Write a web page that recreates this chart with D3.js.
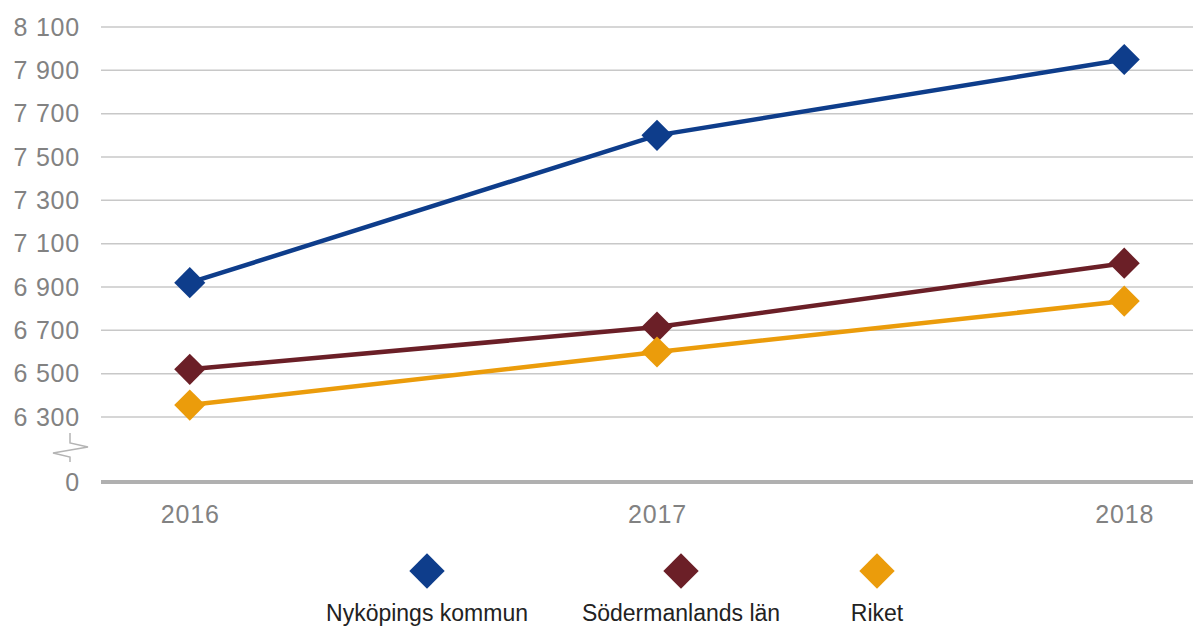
<!DOCTYPE html>
<html>
<head>
<meta charset="utf-8">
<script src="https://cdn.jsdelivr.net/npm/d3@7"></script>
<style>
  body { margin: 0; background: #fff; }
  svg text { font-family: "Liberation Sans", Arial, sans-serif; }
</style>
</head>
<body>
<div id="chart"></div>
<script>
// data
var years = ["2016", "2017", "2018"];
var nykoping = [6920, 7600, 7950];
var sodermanland = [6520, 6715, 7010];
var riket = [6355, 6600, 6835];
var series_names = ["Nyköpings kommun", "Södermanlands län", "Riket"];
var series_colors = ["#0e3d8b", "#6b1f27", "#eb9c0b"];
var y_ticks = [6300, 6500, 6700, 6900, 7100, 7300, 7500, 7700, 7900, 8100];

var all_series = [nykoping, sodermanland, riket];

var width = 1193, height = 628;
var plot_left = 101, plot_right = 1213;
var plot_top = 27, plot_bottom = 482;

var svg = d3.select("#chart").append("svg")
    .attr("width", width).attr("height", height);

// scales (axis is broken: 6000 position shows as 0)
var xscale = d3.scalePoint().domain(years).range([plot_left, plot_right]).padding(0.19);
var yscale = d3.scaleLinear().domain([6000, 8100]).range([plot_bottom, plot_top]);

// gridlines
svg.append("g").selectAll("line").data(y_ticks).enter().append("line")
    .attr("x1", plot_left).attr("x2", plot_right)
    .attr("y1", function (d) { return yscale(d); })
    .attr("y2", function (d) { return yscale(d); })
    .attr("stroke", "#c8c8c8").attr("stroke-width", 1.5);

// y axis labels
var yaxis = d3.axisLeft(yscale)
    .tickValues(y_ticks.concat([6000]))
    .tickSize(0).tickPadding(0)
    .tickFormat(function (d) { return d === 6000 ? "0" : d3.format(",")(d).replace(",", " "); });
var g_y = svg.append("g").attr("transform", "translate(80,0)").call(yaxis);
g_y.select(".domain").remove();
g_y.selectAll("text").attr("fill", "#828282").attr("font-size", 25)
    .attr("letter-spacing", 0.8)
    .attr("font-family", "Liberation Sans, Arial, sans-serif");

// axis break symbol
svg.append("path")
    .attr("d", "M70,433 V443 L88,447 L53,453 L70,457 V462")
    .attr("fill", "none").attr("stroke", "#b4b4b4").attr("stroke-width", 1.5);

// x axis baseline
svg.append("line")
    .attr("x1", plot_left).attr("x2", plot_right)
    .attr("y1", plot_bottom).attr("y2", plot_bottom)
    .attr("stroke", "#b0b0b0").attr("stroke-width", 4);

// x axis labels
var xaxis = d3.axisBottom(xscale).tickSize(0).tickPadding(0);
var g_x = svg.append("g").attr("transform", "translate(0,505)").call(xaxis);
g_x.select(".domain").remove();
g_x.selectAll("text").attr("fill", "#828282").attr("font-size", 25)
    .attr("letter-spacing", 0.8)
    .attr("font-family", "Liberation Sans, Arial, sans-serif");

// lines and diamonds
var line = d3.line()
    .x(function (d, i) { return xscale(years[i]); })
    .y(function (d) { return yscale(d); });

var diamond = d3.symbol().type(d3.symbolSquare).size(22 * 22);

all_series.forEach(function (data_series, index_series) {
    var color = series_colors[index_series];
    svg.append("path").datum(data_series)
        .attr("d", line)
        .attr("fill", "none")
        .attr("stroke", color)
        .attr("stroke-width", 4.5);
    svg.append("g").selectAll("path").data(data_series).enter().append("path")
        .attr("d", diamond)
        .attr("transform", function (d, i) {
            return "translate(" + xscale(years[i]) + "," + yscale(d) + ") rotate(45)";
        })
        .attr("fill", color);
});

// legend
var legend_x = [427, 681, 877];
var legend = svg.append("g").selectAll("g").data(series_names).enter().append("g")
    .attr("transform", function (d, i) { return "translate(" + legend_x[i] + ",0)"; });
legend.append("path")
    .attr("d", d3.symbol().type(d3.symbolSquare).size(25 * 25))
    .attr("transform", "translate(0,571) rotate(45)")
    .attr("fill", function (d, i) { return series_colors[i]; });
legend.append("text")
    .attr("x", 0).attr("y", 621)
    .attr("text-anchor", "middle")
    .attr("font-size", 23)
    .attr("fill", "#222")
    .text(function (d) { return d; });
</script>
</body>
</html>
